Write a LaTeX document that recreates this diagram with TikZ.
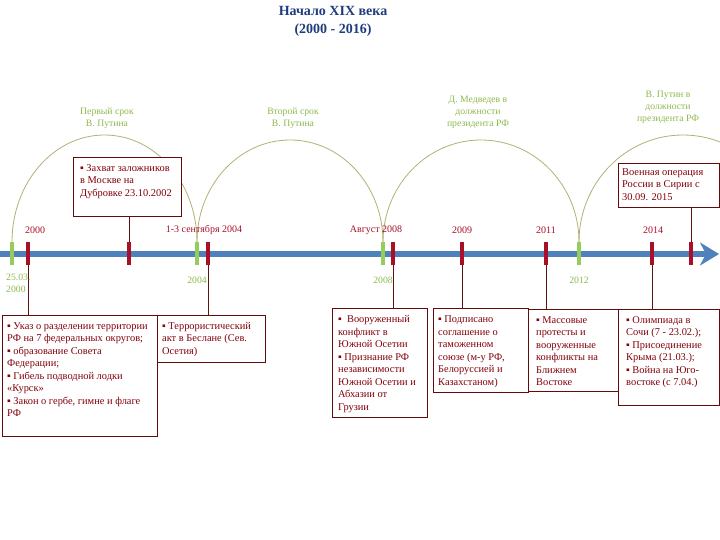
\documentclass[tikz,border=0pt]{standalone}
\usepackage{fontspec}
\setmainfont{Liberation Serif}
\usetikzlibrary{arrows.meta}
\definecolor{tlblue}{RGB}{79,129,189}
\definecolor{tickred}{RGB}{170,15,40}
\definecolor{tickgreen}{RGB}{150,205,90}
\definecolor{arccol}{RGB}{180,175,115}
\definecolor{boxcol}{RGB}{100,10,10}
\definecolor{txtred}{RGB}{130,0,10}
\definecolor{lblgreen}{RGB}{140,185,75}
\definecolor{titleblue}{RGB}{31,60,125}
\definecolor{conncol}{RGB}{95,20,20}
\begin{document}
\begin{tikzpicture}[x=1pt,y=-1pt,
  evbox/.style={draw=boxcol, fill=white, line width=0.9pt, anchor=north west, inner sep=0pt},
  evtext/.style={anchor=north west, align=left, inner sep=0pt, text=txtred, font=\fontsize{10.4}{12.5}\selectfont},
  conn/.style={draw=conncol, line width=0.8pt},
  redtick/.style={draw=tickred, line width=4pt},
  greentick/.style={draw=tickgreen, line width=4pt},
  arcline/.style={draw=arccol, line width=0.8pt},
  redlbl/.style={text=tickred, font=\fontsize{10}{12}\selectfont, inner sep=0pt},
  greenlbl/.style={text=lblgreen, font=\fontsize{9.7}{12}\selectfont, inner sep=0pt, align=center}]
\useasboundingbox (0,0) rectangle (720,540);

% title
\node[text=titleblue, font=\fontsize{14}{18}\selectfont\bfseries, align=center] (title) at (333,21) {Начало XIX века\\(2000 - 2016)};

% arcs
\begin{scope}
\clip (0,0) rectangle (720,540);
\draw[arcline] (12,242) arc[start angle=180, end angle=360, x radius=92.5, y radius=107];
\draw[arcline] (197,242) arc[start angle=180, end angle=360, x radius=93, y radius=102];
\draw[arcline] (383,242) arc[start angle=180, end angle=360, x radius=98, y radius=102];
\draw[arcline] (579,242) arc[start angle=180, end angle=360, x radius=104, y radius=107];
\end{scope}

% arc labels
\node[greenlbl] (l1) at (107,118) {Первый срок\\В. Путина};
\node[greenlbl] (l2) at (293,118) {Второй срок\\В. Путина};
\node[greenlbl] (l3) at (478,112) {Д. Медведев в\\должности\\президента РФ};
\node[greenlbl] (l4) at (668,107) {В. Путин в\\должности\\президента РФ};

% timeline
\coordinate (tlstart) at (0,254);
\coordinate (tlend) at (719,254);
\draw[tlblue, line width=6pt, -{Stealth[length=19pt, width=23pt, inset=6pt]}] (tlstart) -- (tlend);

% tick coordinates
\coordinate (r1) at (28,254);
\coordinate (r2) at (129,254);
\coordinate (r3) at (208,254);
\coordinate (r4) at (393,254);
\coordinate (r5) at (462,254);
\coordinate (r6) at (546,254);
\coordinate (r7) at (652,254);
\coordinate (r8) at (691,254);
\coordinate (g1) at (12,254);
\coordinate (g2) at (197,254);
\coordinate (g3) at (383,254);
\coordinate (g4) at (579,254);

% top boxes
\node[evbox, minimum width=108pt, minimum height=59pt] (top1) at (73,157) {};
\node[evtext] (top1t) at ([xshift=7pt,yshift=-7pt]top1.north west) {▪ Захват заложников\\в Москве на\\Дубровке 23.10.2002};
\node[evbox, minimum width=101pt, minimum height=44pt] (top2) at (618,163) {};
\node[evtext] (top2t) at ([xshift=4pt,yshift=-5pt]top2.north west) {Военная операция\\России в Сирии с\\30.09. 2015};

% bottom boxes
\node[evbox, minimum width=155pt, minimum height=121pt] (b1) at (2,315) {};
\node[evtext] (b1t) at ([xshift=5pt,yshift=-7pt]b1.north west) {▪ Указ о разделении территории\\РФ на 7 федеральных округов;\\▪ образование Совета\\Федерации;\\▪ Гибель подводной лодки\\«Курск»\\▪ Закон о гербе, гимне и флаге\\РФ};
\node[evbox, minimum width=108pt, minimum height=47pt] (b2) at (157,315) {};
\node[evtext] (b2t) at ([xshift=5pt,yshift=-7pt]b2.north west) {▪ Террористический\\акт в Беслане (Сев.\\Осетия)};
\node[evbox, minimum width=95pt, minimum height=109pt] (b3) at (332,308) {};
\node[evtext] (b3t) at ([xshift=6pt,yshift=-7.5pt]b3.north west) {▪\ \ Вооруженный\\конфликт в\\Южной Осетии\\▪ Признание РФ\\независимости\\Южной Осетии и\\Абхазии от\\Грузии};
\node[evbox, minimum width=95pt, minimum height=84pt] (b4) at (433,308) {};
\node[evtext] (b4t) at ([xshift=5pt,yshift=-7.5pt]b4.north west) {▪ Подписано\\соглашение о\\таможенном\\союзе (м-у РФ,\\Белоруссией и\\Казахстаном)};
\node[evbox, minimum width=90pt, minimum height=82pt] (b5) at (528,309) {};
\node[evtext] (b5t) at ([xshift=8pt,yshift=-7pt]b5.north west) {▪ Массовые\\протесты и\\вооруженные\\конфликты на\\Ближнем\\Востоке};
\node[evbox, minimum width=101pt, minimum height=96pt] (b6) at (618,309) {};
\node[evtext] (b6t) at ([xshift=8pt,yshift=-7pt]b6.north west) {▪ Олимпиада в\\Сочи (7 - 23.02.);\\▪ Присоединение\\Крыма (21.03.);\\▪ Война на Юго-\\востоке (с 7.04.)};

% connectors
\draw[conn] (r1) -- (r1 |- b1.north);
\draw[conn] (r2) -- (r2 |- top1.south);
\draw[conn] (r3) -- (r3 |- b2.north);
\draw[conn] (r4) -- (r4 |- b3.north);
\draw[conn] (r5) -- (r5 |- b4.north);
\draw[conn] (r6) -- (r6 |- b5.north);
\draw[conn] (r7) -- (r7 |- b6.north);
\draw[conn] (r8) -- (r8 |- top2.south);

% ticks
\foreach \t in {g1,g2,g3,g4}{
  \draw[greentick] ([yshift=12pt]\t) -- ([yshift=-11pt]\t);
}
\foreach \t in {r1,r2,r3,r4,r5,r6,r7,r8}{
  \draw[redtick] ([yshift=12pt]\t) -- ([yshift=-11pt]\t);
}

% red labels above
\node[redlbl] (y2000) at (35,230) {2000};
\node[redlbl] (y2004) at (204,230) {1-3 сентября 2004};
\node[redlbl] (y2008) at (376,230) {Август 2008};
\node[redlbl] (y2009) at (462,230) {2009};
\node[redlbl] (y2011) at (546,230) {2011};
\node[redlbl] (y2014) at (653,230) {2014};

% green labels below
\node[greenlbl, align=left, anchor=north west] (d2000) at (6,274) {25.03.\\2000};
\node[greenlbl] (d2004) at (197,280) {2004};
\node[greenlbl] (d2008) at (383,280) {2008};
\node[greenlbl] (d2012) at (579,280) {2012};
\end{tikzpicture}
\end{document}
